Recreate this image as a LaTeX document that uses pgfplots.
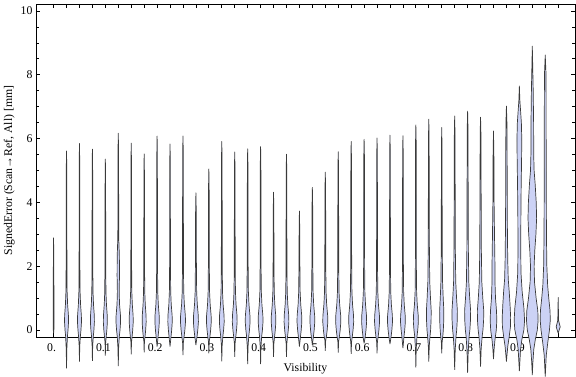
\documentclass[border=0pt]{standalone}
\usepackage{fontspec}
\setmainfont{Liberation Serif}
\usepackage{pgfplots}
\pgfplotsset{compat=1.18}
\definecolor{vfill}{RGB}{204,210,245}
\definecolor{vedge}{RGB}{58,58,58}
% #1 = centre (x), #2 = list of value/half-width(px) pairs from bottom to top
\newcommand\violin[2]{%
  \gdef\vR{}\gdef\vL{}%
  \foreach \yy/\ww in {#2}{%
    \pgfmathsetmacro\xr{#1+\ww*0.001933}%
    \pgfmathsetmacro\xl{#1-\ww*0.001933}%
    \xdef\vR{\vR(\xr,\yy)}%
    \xdef\vL{(\xl,\yy)\vL}%
  }%
  \edef\vtmp{\noexpand\addplot[vio] coordinates {\vR\vL};}%
  \vtmp
}
\begin{document}
\begin{tikzpicture}
\begin{axis}[
  name=ax, scale only axis, width=539bp, height=333bp,
  xmin=-0.034, xmax=1.0075, ymin=-0.219, ymax=10.22,
  clip=false,
  axis line style={line width=0.8bp},
  tick style={line width=0.8bp, black},
  tick align=inside, xtick pos=both, ytick pos=both,
  major tick length=4.3bp, minor tick length=2.6bp,
  xtick={0,0.025,0.05,0.075,0.1,0.125,0.15,0.175,0.2,0.225,0.25,0.275,0.3,0.325,0.35,0.375,0.4,0.425,0.45,0.475,0.5,0.525,0.55,0.575,0.6,0.625,0.65,0.675,0.7,0.725,0.75,0.775,0.8,0.825,0.85,0.875,0.9,0.925,0.95,0.975},
  xticklabels={0.,{},{},{},0.1,{},{},{},0.2,{},{},{},0.3,{},{},{},0.4,{},{},{},0.5,{},{},{},0.6,{},{},{},0.7,{},{},{},0.8,{},{},{},0.9,{},{},{}},
  ytick={0,2,4,6,8,10}, yticklabels={0,2,4,6,8,10},
  minor y tick num=3,
  tick label style={font=\fontsize{11.8}{13}\selectfont},
  x tick label style={xshift=-2bp, yshift=-3bp},
  xlabel={Visibility},
  xlabel style={font=\fontsize{11.8}{13}\selectfont, at={(rel axis cs:0.5,0)}, anchor=base, yshift=-34bp},
  ylabel={SignedError (Scan→Ref, All) [mm]},
  ylabel style={font=\fontsize{11.8}{13}\selectfont, at={(rel axis cs:-0.0445,0.5)}, anchor=base},
  vio/.style={fill=vfill, draw=vedge, line width=0.7bp, line join=round, mark=none},
]
\violin{0}{-0.1/0, 0/0.3, 0.3/0.45, 1.0/0.35, 2.0/0.25, 2.89/0}
\violin{0.025}{-1.20/0, -0.60/0.3, -0.2/0.9, 0/1.5, 0.25/2.0, 0.45/1.9, 0.8/1.1, 1.2/0.6, 2.0/0.4, 5.11/0.24, 5.61/0}
\violin{0.05}{-0.99/0, -0.5/0.3, -0.2/0.9, 0/1.5, 0.25/2.0, 0.45/1.9, 0.8/1.1, 1.2/0.6, 2.0/0.4, 5.35/0.24, 5.85/0}
\violin{0.075}{-0.97/0, -0.49/0.3, -0.2/0.9, 0/1.5, 0.25/2.0, 0.45/1.9, 0.8/1.1, 1.2/0.6, 2.0/0.4, 5.17/0.24, 5.67/0}
\violin{0.1}{-0.80/0, -0.4/0.3, -0.2/0.9, 0/1.5, 0.25/2.0, 0.45/1.9, 0.8/1.1, 1.2/0.6, 2.0/0.4, 4.86/0.24, 5.36/0}
\violin{0.125}{-1.13/0, -0.56/0.35, -0.2/1.04, 0/1.73, 0.25/2.3, 0.45/2.19, 0.8/1.27, 1.2/0.9, 1.7/1.2, 2.3/1.1, 2.9/0.45, 5.67/0.28, 6.17/0}
\violin{0.15}{-0.76/0, -0.38/0.3, -0.2/0.9, 0/1.5, 0.25/2.0, 0.45/1.9, 0.8/1.1, 1.2/0.6, 2.0/0.4, 5.36/0.24, 5.86/0}
\violin{0.175}{-0.70/0, -0.35/0.3, -0.2/0.9, 0/1.5, 0.25/2.0, 0.45/1.9, 0.8/1.1, 1.2/0.6, 2.0/0.4, 5.02/0.24, 5.52/0}
\violin{0.2}{-0.52/0, -0.2/1.0, 0/1.65, 0.25/2.2, 0.45/2.1, 0.8/1.2, 1.2/0.66, 2.0/0.44, 5.58/0.26, 6.08/0}
\violin{0.225}{-0.52/0, -0.2/1.0, 0/1.65, 0.25/2.2, 0.45/2.1, 0.8/1.2, 1.2/0.66, 2.0/0.44, 5.33/0.26, 5.83/0}
\violin{0.25}{-0.79/0, -0.4/0.38, -0.2/1.13, 0/1.88, 0.25/2.5, 0.45/2.38, 0.8/1.38, 1.2/0.75, 2.0/0.5, 5.58/0.3, 6.08/0}
\violin{0.275}{-0.47/0, -0.2/1.13, 0/1.88, 0.25/2.5, 0.45/2.38, 0.8/1.38, 1.2/0.75, 2.0/0.5, 3.8/0.3, 4.30/0}
\violin{0.3}{-0.73/0, -0.37/0.36, -0.2/1.08, 0/1.8, 0.25/2.4, 0.45/2.28, 0.8/1.32, 1.2/0.72, 2.0/0.48, 4.55/0.29, 5.05/0}
\violin{0.325}{-0.98/0, -0.49/0.36, -0.2/1.08, 0/1.8, 0.25/2.4, 0.45/2.28, 0.8/1.32, 1.2/0.72, 2.0/0.48, 5.41/0.29, 5.91/0}
\violin{0.35}{-0.84/0, -0.42/0.36, -0.2/1.08, 0/1.8, 0.25/2.4, 0.45/2.28, 0.8/1.32, 1.2/0.72, 2.0/0.48, 5.08/0.29, 5.58/0}
\violin{0.375}{-1.07/0, -0.54/0.36, -0.2/1.08, 0/1.8, 0.25/2.4, 0.45/2.28, 0.8/1.32, 1.2/0.72, 2.0/0.48, 5.18/0.29, 5.68/0}
\violin{0.4}{-1.07/0, -0.54/0.36, -0.2/1.08, 0/1.8, 0.25/2.4, 0.45/2.28, 0.8/1.32, 1.2/0.72, 2.0/0.48, 5.25/0.29, 5.75/0}
\violin{0.425}{-0.84/0, -0.42/0.35, -0.2/1.04, 0/1.73, 0.25/2.3, 0.45/2.19, 0.8/1.27, 1.2/0.69, 2.0/0.46, 3.82/0.28, 4.32/0}
\violin{0.45}{-0.84/0, -0.42/0.36, -0.2/1.08, 0/1.8, 0.25/2.4, 0.45/2.28, 0.8/1.32, 1.2/0.72, 2.0/0.48, 5.01/0.29, 5.51/0}
\violin{0.475}{-0.52/0, -0.2/1.08, 0/1.8, 0.25/2.4, 0.45/2.28, 0.8/1.32, 1.2/0.72, 2.0/0.48, 3.23/0.29, 3.73/0}
\violin{0.5}{-0.47/0, -0.2/1.08, 0/1.8, 0.25/2.4, 0.45/2.28, 0.8/1.32, 1.2/0.72, 2.0/0.48, 3.97/0.29, 4.47/0}
\violin{0.525}{-0.65/0, -0.33/0.38, -0.2/1.13, 0/1.88, 0.25/2.5, 0.45/2.38, 0.8/1.38, 1.2/0.75, 2.0/0.5, 4.45/0.3, 4.95/0}
\violin{0.55}{-0.71/0, -0.36/0.39, -0.2/1.17, 0/1.95, 0.25/2.6, 0.45/2.47, 0.8/1.43, 1.2/0.78, 2.0/0.52, 5.09/0.31, 5.59/0}
\violin{0.575}{-0.75/0, -0.38/0.38, -0.2/1.13, 0/1.88, 0.25/2.5, 0.45/2.38, 0.8/1.38, 1.2/0.75, 2.0/0.5, 5.41/0.3, 5.91/0}
\violin{0.6}{-0.42/0, -0.2/1.13, 0/1.88, 0.25/2.5, 0.45/2.38, 0.8/1.38, 1.2/0.75, 2.0/0.5, 5.48/0.3, 5.98/0}
\violin{0.625}{-0.73/0, -0.37/0.38, -0.2/1.13, 0/1.88, 0.25/2.5, 0.45/2.38, 0.8/1.38, 1.2/0.75, 2.0/0.5, 5.52/0.3, 6.02/0}
\violin{0.65}{-0.44/0, -0.2/1.13, 0/1.88, 0.25/2.5, 0.45/2.38, 0.8/1.38, 1.2/0.75, 2.0/0.5, 5.61/0.3, 6.11/0}
\violin{0.675}{-0.57/0, -0.2/1.08, 0/1.8, 0.25/2.4, 0.45/2.28, 0.8/1.32, 1.2/0.72, 2.0/0.48, 5.59/0.29, 6.09/0}
\violin{0.7}{-1.18/0, -0.59/0.38, -0.2/1.13, 0/1.88, 0.25/2.5, 0.45/2.38, 0.8/1.38, 1.2/0.75, 2.0/0.5, 5.93/0.3, 6.43/0}
\violin{0.725}{-0.99/0, -0.5/0.48, -0.2/1.2, 0/1.8, 0.3/2.28, 0.6/2.4, 1.0/1.68, 1.5/0.96, 2.5/0.6, 6.11/0.29, 6.61/0}
\violin{0.75}{-0.73/0, -0.37/0.42, -0.2/1.05, 0/1.58, 0.3/2.0, 0.6/2.1, 1.0/1.47, 1.5/0.84, 2.5/0.53, 5.85/0.25, 6.35/0}
\violin{0.775}{-1.25/0, -0.63/0.54, -0.2/1.35, 0/2.03, 0.3/2.57, 0.6/2.7, 1.0/1.89, 1.5/1.08, 2.5/0.68, 6.21/0.32, 6.71/0}
\violin{0.8}{-1.34/0, -0.67/0.6, -0.2/1.5, 0/2.25, 0.3/2.85, 0.6/3.0, 1.0/2.1, 1.5/1.2, 2.5/0.75, 6.36/0.36, 6.86/0}
\violin{0.825}{-1.15/0, -0.58/0.64, -0.2/1.6, 0/2.4, 0.3/3.04, 0.6/3.2, 1.0/2.24, 1.5/1.28, 2.5/0.8, 6.17/0.38, 6.67/0}
\violin{0.85}{-0.91/0, -0.6/0.6, -0.3/1.5, 0/2.8, 0.3/3.3, 0.6/3.0, 1.0/2.0, 1.5/1.5, 2.2/1.4, 3.0/1.0, 4.0/0.6, 5.5/0.4, 6.24/0}
\violin{0.875}{-0.99/0, -0.8/0.5, -0.5/1.4, -0.2/2.8, 0.1/4.0, 0.4/4.2, 0.8/3.6, 1.2/2.8, 1.6/1.8, 2.2/1.3, 3.0/1.0, 4.0/0.8, 5.5/0.7, 6.5/0.5, 7.02/0}
\violin{0.9}{-1.29/0, -1.0/0.5, -0.6/1.2, -0.3/2.5, 0/4.5, 0.3/5.2, 0.7/4.5, 1.2/2.8, 1.8/1.6, 2.5/1.4, 3.5/1.5, 4.5/1.8, 5.3/2.2, 6.0/2.4, 6.5/2.0, 7.2/0.5, 7.65/0}
\violin{0.925}{-1.41/0, -1.0/0.6, -0.6/1.5, -0.3/3.0, 0/5.0, 0.3/5.8, 0.6/5.5, 1.0/3.8, 1.5/2.2, 2.0/1.8, 2.5/2.5, 3.0/3.6, 3.5/4.3, 4.0/3.9, 4.6/2.8, 5.0/1.8, 5.5/1.4, 6.5/1.3, 7.5/0.9, 8.3/0.4, 8.9/0}
\violin{0.95}{-1.46/0, -1.2/0.4, -0.8/1.0, -0.4/2.5, 0/4.2, 0.3/5.0, 0.6/4.8, 1.0/3.5, 1.4/2.4, 2.0/1.6, 3.0/1.2, 4.0/1.1, 5.0/1.0, 6.0/0.9, 7.0/0.9, 8.0/0.8, 8.62/0}
\violin{0.975}{-0.1/0, 0.0/1.0, 0.1/2.0, 0.2/1.2, 0.3/0.4, 0.6/0.25, 1.02/0}
\end{axis}
\pgfresetboundingbox
\useasboundingbox ([xshift=-36bp,yshift=-40bp]ax.south west) rectangle ([xshift=1bp,yshift=4bp]ax.north east);
\end{tikzpicture}
\end{document}
